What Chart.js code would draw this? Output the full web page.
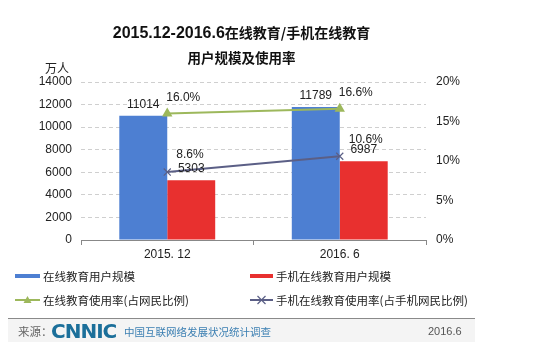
<!DOCTYPE html>
<html>
<head>
<meta charset="utf-8">
<script src="https://cdn.jsdelivr.net/npm/chart.js@4"></script>
<style>
  html,body{margin:0;padding:0;background:#fff;}
  #wrap{position:relative;width:541px;height:357px;overflow:hidden;background:#fff;font-family:"Liberation Sans","Noto Sans CJK SC",sans-serif;}
  canvas{position:absolute;left:0;top:0;}
  .abs{position:absolute;white-space:nowrap;}
  #t1{left:0;width:483px;text-align:center;top:21px;font-weight:bold;color:#111;font-size:16px;line-height:22px;}
  #t1 .cj{font-size:14px;font-family:"Noto Sans CJK SC",sans-serif;}
  #t2{left:0;width:483px;text-align:center;top:47px;font-weight:bold;color:#111;font-size:13.5px;line-height:20px;font-family:"Noto Sans CJK SC",sans-serif;}
  #unit{left:45px;top:60px;font-size:12px;color:#222;font-family:"Noto Sans CJK SC",sans-serif;line-height:16px;}
  #foot{left:8px;top:318px;width:467px;height:23px;background:#f4f4f4;border-top:1px solid #8a8a8a;}
  #src{left:18px;top:324px;font-size:11.5px;color:#666;font-family:"Noto Sans CJK SC",sans-serif;line-height:15px;}
  #logo{left:51px;top:320px;font-size:20px;font-weight:900;color:#1b6f9a;font-family:"DejaVu Sans",sans-serif;letter-spacing:-1px;line-height:22px;}
  #org{left:124px;top:324px;font-size:10.5px;color:#3b7fb2;font-family:"Noto Sans CJK SC",sans-serif;line-height:15px;}
  #dt{left:428px;top:324px;font-size:11px;color:#555;line-height:15px;}
</style>
</head>
<body>
<div id="wrap">
  <canvas id="c" width="541" height="357"></canvas>
  <div class="abs" id="t1">2015.12-2016.6<span class="cj">在线教育/手机在线教育</span></div>
  <div class="abs" id="t2">用户规模及使用率</div>
  <div class="abs" id="unit">万人</div>
  <div class="abs" id="foot"></div>
  <div class="abs" id="src">来源：</div>
  <div class="abs" id="logo">CNNIC</div>
  <div class="abs" id="org">中国互联网络发展状况统计调查</div>
  <div class="abs" id="dt">2016.6</div>
</div>
<script>
const categories = ['2015. 12', '2016. 6'];
const onlineEduUsers = [11014, 11789];
const mobileEduUsers = [5303, 6987];
const onlineEduRate = [16.0, 16.6];
const mobileEduRate = [8.6, 10.6];
const seriesNames = ['在线教育用户规模', '手机在线教育用户规模', '在线教育使用率(占网民比例)', '手机在线教育使用率(占手机网民比例)'];
const leftTicks = { min: 0, max: 14000, step: 2000 };
const rightTicks = { min: 0, max: 20, step: 5 };

const labelPlugin = {
  id: 'labels',
  afterDatasetsDraw(chart) {
    const ctx = chart.ctx;
    ctx.save();
    ctx.font = '12px "Liberation Sans", Arial, sans-serif';
    ctx.fillStyle = '#222';
    ctx.textBaseline = 'middle';
    chart.data.datasets.forEach((ds, i) => {
      const meta = chart.getDatasetMeta(i);
      meta.data.forEach((el, j) => {
        const v = ds.data[j];
        if (ds.type === 'line') {
          ctx.textAlign = 'left';
          const dx = i === 2 ? -1 : 9;
          const dy = i === 2 ? -16 : -17;
          ctx.fillText(v.toFixed(1) + '%', el.x + dx, el.y + dy);
        } else {
          ctx.textAlign = 'center';
          ctx.fillText(String(v), el.x, el.y - 11);
        }
      });
    });
    ctx.restore();
  }
};

const legendPlugin = {
  id: 'customLegend',
  afterDraw(chart) {
    const ctx = chart.ctx;
    ctx.save();
    const pos = [[15, 276], [250, 276], [15, 300], [250, 300]];
    chart.data.datasets.forEach((ds, i) => {
      const [x, y] = pos[i];
      const w = i % 2 === 0 ? 25 : 23;
      if (ds.type === 'line') {
        ctx.strokeStyle = ds.borderColor;
        ctx.lineWidth = 2;
        ctx.beginPath(); ctx.moveTo(x, y); ctx.lineTo(x + w, y); ctx.stroke();
        const cx = x + w / 2;
        if (ds.pointStyle === 'triangle') {
          ctx.fillStyle = ds.borderColor;
          ctx.beginPath(); ctx.moveTo(cx, y - 4); ctx.lineTo(cx + 4, y + 3); ctx.lineTo(cx - 4, y + 3); ctx.closePath(); ctx.fill();
        } else {
          ctx.lineWidth = 1.2;
          ctx.beginPath(); ctx.moveTo(cx - 4, y - 4); ctx.lineTo(cx + 4, y + 4); ctx.moveTo(cx + 4, y - 4); ctx.lineTo(cx - 4, y + 4); ctx.stroke();
        }
      } else {
        ctx.fillStyle = ds.backgroundColor;
        ctx.fillRect(x, y - 2, w, 4);
      }
      ctx.fillStyle = '#222';
      ctx.font = '11.5px "Noto Sans CJK SC", sans-serif';
      ctx.textAlign = 'left';
      ctx.textBaseline = 'middle';
      ctx.fillText(ds.label, x + w + 3, y + 1);
    });
    ctx.restore();
  }
};

new Chart(document.getElementById('c'), {
  data: {
    labels: categories,
    datasets: [
      { type: 'bar', label: seriesNames[0], data: onlineEduUsers, backgroundColor: '#4d7fd2', yAxisID: 'y', order: 2, barPercentage: 1, categoryPercentage: 0.556 },
      { type: 'bar', label: seriesNames[1], data: mobileEduUsers, backgroundColor: '#e8302f', yAxisID: 'y', order: 2, barPercentage: 1, categoryPercentage: 0.556 },
      { type: 'line', label: seriesNames[2], data: onlineEduRate, borderColor: '#9db85c', backgroundColor: '#9db85c', borderWidth: 2, pointStyle: 'triangle', pointRadius: 4, yAxisID: 'y1', order: 0 },
      { type: 'line', label: seriesNames[3], data: mobileEduRate, borderColor: '#5b5f86', backgroundColor: '#5b5f86', borderWidth: 2, pointStyle: 'crossRot', pointRadius: 5, pointBorderWidth: 1.2, yAxisID: 'y1', order: 0 }
    ]
  },
  options: {
    responsive: false,
    animation: false,
    layout: { padding: { top: 82, bottom: 0, left: 0, right: 0 } },
    plugins: { legend: { display: false }, title: { display: false }, tooltip: { enabled: false } },
    scales: {
      x: {
        offset: true,
        grid: { offset: true, drawOnChartArea: false, drawTicks: true, tickLength: 5, color: '#888' },
        border: { color: '#888', width: 1 },
        ticks: { color: '#222', font: { size: 12, family: '"Liberation Sans", Arial, sans-serif' }, padding: 2 },
        afterFit: s => { s.height = 117; }
      },
      y: {
        position: 'left',
        min: leftTicks.min, max: leftTicks.max,
        ticks: { stepSize: leftTicks.step, color: '#222', padding: 9, font: { size: 12, family: '"Liberation Sans", Arial, sans-serif' }, callback: v => String(v) },
        grid: { color: '#cfcfcf', drawTicks: false },
        border: { display: false, dash: [4, 3] },
        afterFit: s => { s.width = 81; }
      },
      y1: {
        position: 'right',
        min: rightTicks.min, max: rightTicks.max,
        ticks: { stepSize: rightTicks.step, color: '#222', padding: 10, font: { size: 12, family: '"Liberation Sans", Arial, sans-serif' }, callback: v => v + '%' },
        grid: { drawOnChartArea: false, drawTicks: false },
        border: { display: false },
        afterFit: s => { s.width = 115; }
      }
    }
  },
  plugins: [labelPlugin, legendPlugin]
});
</script>
</body>
</html>
